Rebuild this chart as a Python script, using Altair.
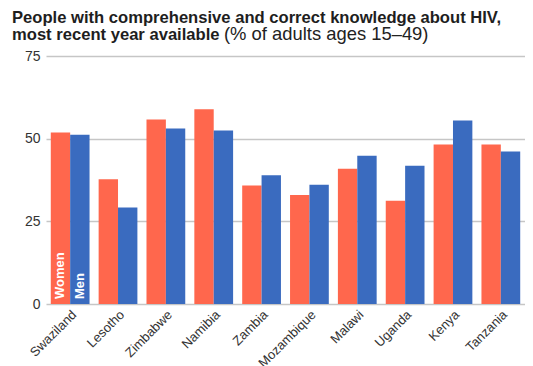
import altair as alt
import pandas as pd

countries = ["Swaziland", "Lesotho", "Zimbabwe", "Namibia", "Zambia",
             "Mozambique", "Malawi", "Uganda", "Kenya", "Tanzania"]
women = [51.9, 37.7, 55.8, 58.9, 35.8, 33.0, 40.9, 31.2, 48.2, 48.2]
men = [51.2, 29.2, 53.1, 52.5, 38.9, 36.1, 44.8, 41.8, 55.5, 46.1]
sexes = ["Women", "Men"]
colors = ["#ff674d", "#3a6bbf"]
y_ticks = [0, 25, 50, 75]

title_line1 = "People with comprehensive and correct knowledge about HIV,"
title_line2 = "most recent year available"
title_rest = "(% of adults ages 15–49)"

rows = []
for c, w, m in zip(countries, women, men):
    rows.append({"country": c, "sex": "Women", "value": w})
    rows.append({"country": c, "sex": "Men", "value": m})
df = pd.DataFrame(rows)

FONT = "Liberation Sans"
W, H = 479, 248

x_enc = alt.X("country:N", sort=countries,
              scale=alt.Scale(paddingInner=0.19, paddingOuter=0.1),
              axis=alt.Axis(title=None, labelAngle=-45, labelFontSize=13,
                            labelColor="#333333", labelFont=FONT, ticks=False,
                            domain=False, labelPadding=4))
y_enc = alt.Y("value:Q", scale=alt.Scale(domain=[0, 75], nice=False),
              axis=alt.Axis(title=None, values=y_ticks, labelFontSize=14,
                            labelColor="#333333", labelFont=FONT, ticks=False,
                            domain=False, labelPadding=6, minExtent=38,
                            gridColor="#c6c6c6", gridWidth=1.5))

bars = alt.Chart(df).mark_bar().encode(
    x=x_enc,
    xOffset=alt.XOffset("sex:N", sort=sexes, scale=alt.Scale(paddingInner=0, paddingOuter=0)),
    y=y_enc,
    color=alt.Color("sex:N", sort=sexes,
                    scale=alt.Scale(domain=sexes, range=colors), legend=None),
)

lab_df = pd.DataFrame({"country": [countries[0]] * 2, "sex": sexes, "value": [0, 0]})
labels = alt.Chart(lab_df).mark_text(
    angle=270, align="left", baseline="middle", dx=5, fontSize=13,
    fontWeight="bold", font=FONT, color="white"
).encode(
    x=alt.X("country:N", sort=countries),
    xOffset=alt.XOffset("sex:N", sort=sexes),
    y="value:Q",
    text="sex:N",
)

t_df = pd.DataFrame({"l1": [title_line1], "l2": [title_line2], "r": [title_rest]})
t1 = alt.Chart(t_df).mark_text(
    align="left", baseline="alphabetic", fontSize=16.6, font=FONT,
    fontWeight="bold", color="#1e1e1e"
).encode(x=alt.value(-34), y=alt.value(-33), text="l1:N")
t2 = alt.Chart(t_df).mark_text(
    align="left", baseline="alphabetic", fontSize=16.6, font=FONT,
    fontWeight="bold", color="#1e1e1e"
).encode(x=alt.value(-34), y=alt.value(-16), text="l2:N")
t3 = alt.Chart(t_df).mark_text(
    align="left", baseline="alphabetic", fontSize=18.4, font=FONT,
    color="#222222"
).encode(x=alt.value(178), y=alt.value(-16), text="r:N")

chart = alt.layer(bars, labels, t1, t2, t3).properties(
    width=W, height=H,
    padding={"left": 0, "top": 2, "right": 0, "bottom": 0},
).configure_view(stroke=None)

chart.save("out.html", embed_options={"renderer": "svg", "actions": False})
